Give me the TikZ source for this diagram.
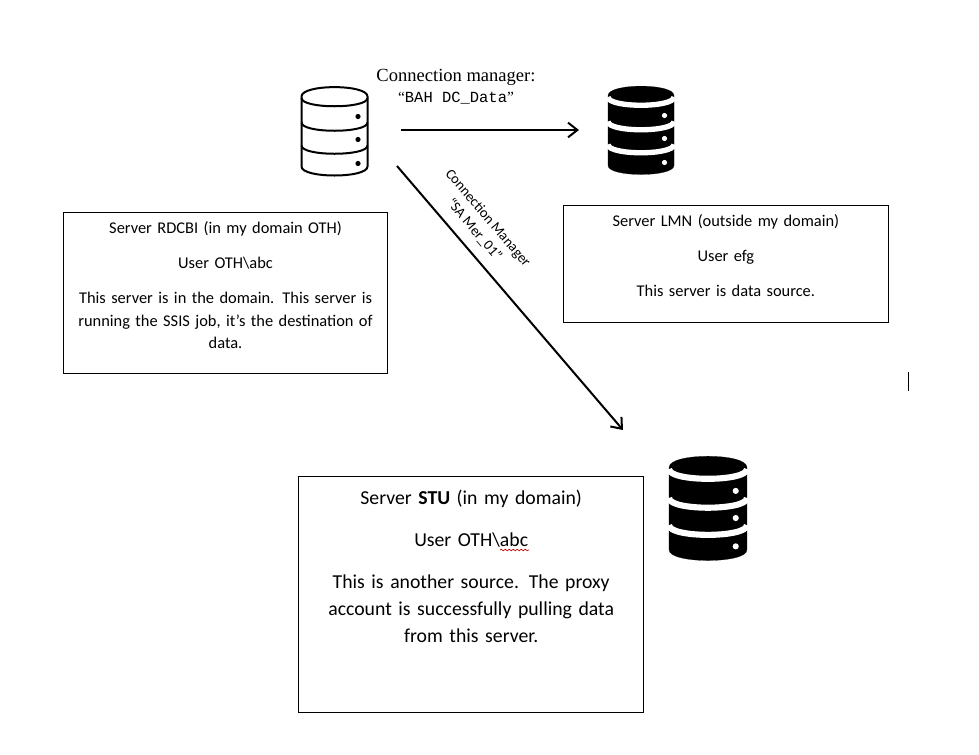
\documentclass[tikz,border=0pt]{standalone}
\usepackage{fontspec}
\setmainfont{Carlito}
\newfontfamily\timesfont{Liberation Serif}
\newfontfamily\courfont{Liberation Mono}
\usetikzlibrary{arrows.meta,decorations.pathmorphing}
\tikzset{
	srvbox/.style={draw, line width=0.8pt, anchor=north west, align=center, inner xsep=0pt, inner ysep=0pt},
	smalltext/.style={font=\fontsize{12.3}{16.9}\selectfont},
	bigtext/.style={font=\fontsize{14.8}{20.2}\selectfont},
	flow/.style={line width=1.5pt, -{Straight Barb[length=7pt,width=11pt,line width=1.5pt]}},
	pics/dbicon/.style n args={4}{code={
		\draw [line width=#4, fill=#1] (-33,-34.5) .. controls (-33,-47) and (33,-47) .. (33,-34.5)
			-- (33,35.5) .. controls (33,47.5) and (-33,47.5) .. (-33,35.5) -- cycle;
		\foreach \y in {-33,-8.5,14.5}
			\draw [line width=#3, #2] (-33,\y) .. controls (-33,\y+11) and (33,\y+11) .. (33,\y);
		\foreach \y in {-14.5,8.5,32.5}
			\fill [#2] (23.5,\y) circle (2.6);
	}}
}
\begin{document}
\begin{tikzpicture}[x=0.75pt, y=-0.75pt]
	\useasboundingbox (0,0) rectangle (979,754);
	% servers
	\pic (iconRDCBI) at (334.5,131) {dbicon={white}{black}{1.5pt}{1.5pt}};
	\pic (iconLMN) at (641,130) {dbicon={black}{white}{4pt}{0.1pt}};
	\pic [scale=1.18] (iconSTU) at (708,508) {dbicon={black}{white}{4.6pt}{0.1pt}};
	% text boxes
	\draw (63,212) node [srvbox, smalltext, text width=243pt, text depth=105.2pt] (RDCBI) {\rule{0pt}{15.75pt}Server RDCBI (in my domain OTH)\\[9.4pt]
		User OTH\textbackslash abc\\[9.4pt]
		This server is in the domain. This server is\\
		running the SSIS job, it’s the destination of\\
		data.};
	\draw (563,205) node [srvbox, smalltext, text width=243.5pt, text depth=72.25pt] (LMN) {\rule{0pt}{15.75pt}Server LMN (outside my domain)\\[9.4pt]
		User efg\\[9.4pt]
		This server is data source.};
	\draw (298,476) node [srvbox, bigtext, text width=259pt, text depth=156.25pt] (STU) {\rule{0pt}{20.75pt}Server \textbf{STU} (in my domain)\\[11.5pt]
		User OTH\textbackslash abc\\[11.5pt]
		This is another source. The proxy\\
		account is successfully pulling data\\
		from this server.};
	% labels
	\draw (456,77) node [font=\timesfont\fontsize{13.9}{15}\selectfont] (lblTop) {Connection manager:};
	\draw (456,98) node [font=\timesfont\fontsize{11.6}{14}\selectfont] (lblData) {“{\courfont BAH DC\_Data}”};
	\draw (481,224) node [rotate=-49.5, align=center, font=\fontsize{10.8}{13.5}\selectfont] (lblDiag) {Connection Manager\\“SA Mer\_01”};
	% connectors
	\coordinate (topFrom) at (401,130);
	\coordinate (topTo) at (579,130);
	\coordinate (diagFrom) at (397,166);
	\coordinate (diagTo) at (623,430);
	\draw
	(topFrom) edge [flow] (topTo)
	(diagFrom) edge [flow] (diagTo);
	% spell check mark and text cursor
	\coordinate (wavyFrom) at (500,550);
	\coordinate (wavyTo) at (529,550);
	\draw [red!80!black, line width=0.5pt, decorate, decoration={snake, amplitude=0.6pt, segment length=3pt}] (wavyFrom) -- (wavyTo);
	\coordinate (cursorTop) at (908.5,372);
	\coordinate (cursorEnd) at (908.5,391);
	\draw [line width=0.8pt] (cursorTop) -- (cursorEnd);
\end{tikzpicture}
\end{document}
